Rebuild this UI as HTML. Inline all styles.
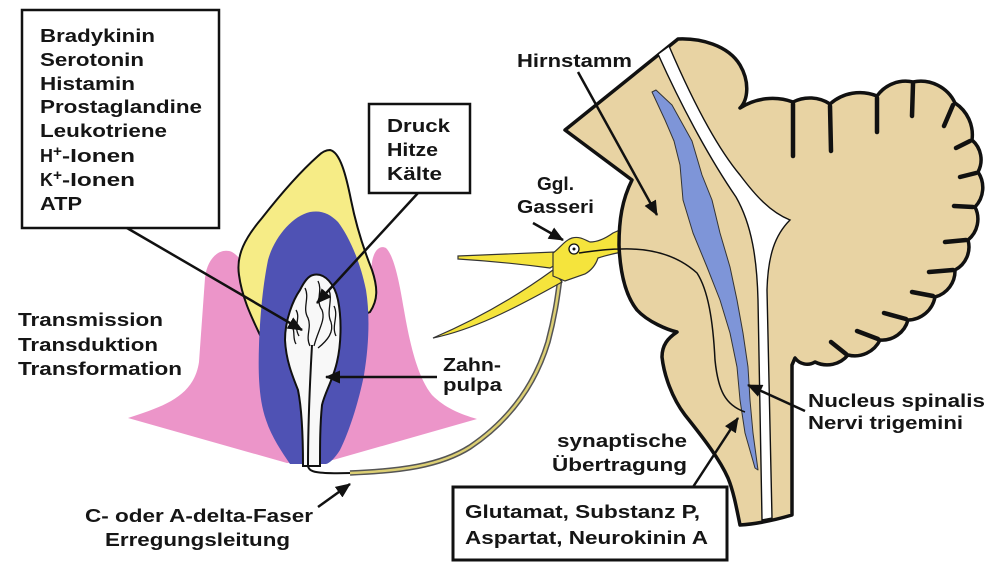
<!DOCTYPE html>
<html><head><meta charset="utf-8"><style>
html,body{margin:0;padding:0;background:#fff;}
svg{display:block;}
text{font-family:"Liberation Sans",Arial,sans-serif;font-weight:bold;font-size:18.5px;fill:#151515;}
</style></head><body>
<svg width="1000" height="563" viewBox="0 0 1000 563" xmlns="http://www.w3.org/2000/svg">
<defs>
<marker id="ah" markerUnits="userSpaceOnUse" markerWidth="15" markerHeight="13" viewBox="0 0 15 13" refX="14" refY="6.5" orient="auto">
<path d="M0,0 L15,6.5 L0,13 Z" fill="#111"/>
</marker>
</defs>
<rect width="1000" height="563" fill="#fff"/>

<!-- gums -->
<path d="M128,418 C165,406 194,396 199,362 L205,278 C207,258 220,247 232,252 C246,260 251,282 253,300 L368,300 L372,262 C374,250 380,245 386,248 C394,256 399,280 404,310 C410,345 418,378 432,395 C445,408 460,414 477,419 L333,460 L287,463 Z" fill="#ec95c9"/>

<!-- enamel -->
<path d="M330,150 C340,152 346,175 351,200 C356,225 362,245 372,270 C378,288 378,300 370,312 L330,330 L260,335 C252,318 242,298 239,275 C236,255 245,238 262,218 C280,195 300,172 318,156 C322,152 326,150 330,150 Z" fill="#f6ec86" stroke="#111" stroke-width="2"/>

<!-- dentin -->
<path d="M310,212 C322,210 330,214 338,222 C348,235 360,260 366,290 C370,315 369,345 364,375 C359,400 350,430 340,450 C335,458 330,463 326,464 L290,464 C282,452 272,438 266,420 C259,400 258,375 259,345 C260,320 262,290 268,260 C274,238 292,216 310,212 Z" fill="#4f52b4"/>

<!-- pulp -->
<path d="M313,275 C325,272 335,285 338,300 C342,320 341,345 337,362 C333,380 325,392 322,405 C320,425 320,445 320,466 L303,466 C303,440 302,410 298,390 C292,375 286,360 285,340 C285,320 293,300 300,290 C304,282 308,276 313,275 Z" fill="#f8f8f8" stroke="#111" stroke-width="2"/>
<g fill="none" stroke="#111" stroke-width="1.3">
<path d="M305,288 C310,298 302,308 308,318 C312,328 305,336 310,346"/>
<path d="M318,281 C323,291 315,300 322,310 C326,320 318,330 314,346"/>
<path d="M329,290 C333,300 326,312 331,322 C334,332 328,340 318,348"/>
<path d="M296,310 C301,318 293,326 299,336"/>
<path d="M334,306 C339,316 331,326 336,336"/>
<path d="M291,326 C296,330 292,338 296,344"/>
</g>
<path d="M312,345 C310,380 308,420 308,466 C309,472 316,474 352,473" fill="none" stroke="#111" stroke-width="2"/>

<!-- fiber -->
<path d="M350,473 C400,471 440,466 470,447 C510,420 535,385 548,342 C556,312 558,292 560,278" fill="none" stroke="#555" stroke-width="5.5"/>
<path d="M350,473 C400,471 440,466 470,447 C510,420 535,385 548,342 C556,312 558,292 560,278" fill="none" stroke="#dccf74" stroke-width="2.5"/>

<!-- ganglion -->
<g fill="#f5e43c" stroke="#333" stroke-width="1.2">
<path d="M458,256 L555,252 L560,262 L550,268 C520,264 490,261 458,259 Z"/>
<path d="M553,270 C520,294 480,318 433,338 C472,330 512,310 562,282 Z"/>
<path d="M553,253 C560,248 565,240 572,238 C580,236 585,240 590,242 C598,242 606,238 613,233 L622,229 L622,252 C612,254 604,256 598,258 C596,264 592,270 585,274 L565,281 L553,276 Z"/>
</g>
<circle cx="574" cy="249" r="5" fill="#fff" stroke="#111" stroke-width="1.3"/>
<circle cx="574" cy="249" r="1.5" fill="#111"/>

<!-- brainstem + cerebellum -->
<path d="M565,130 L678,39 C700,38 728,45 740,65 C750,82 748,100 740,108 A60,60 0 0 1 793,102 A37,37 0 0 1 830,104 A45,45 0 0 1 877,96 A35,35 0 0 1 913,82 A38,38 0 0 1 955,103 A38,38 0 0 1 972,140 A26,26 0 0 1 978,172 A28,28 0 0 1 975,207 A27,27 0 0 1 968,240 A26,26 0 0 1 955,270 A27,27 0 0 1 935,297 A28,28 0 0 1 908,320 A27,27 0 0 1 880,340 A28,28 0 0 1 848,355 A27,27 0 0 1 815,362 A15,15 0 0 1 795,358 L792,365 L792,515 C775,520 755,524 740,525 C736,505 733,490 728,478 C720,460 705,440 685,415 C672,398 664,375 662,357 C662,345 668,338 677,332 C668,330 648,322 637,310 C625,295 620,270 619,245 C619,220 622,200 632,180 Z" fill="#e8d3a3" stroke="#111" stroke-width="3.5" stroke-linejoin="round"/>
<g stroke="#111" stroke-width="4.5" stroke-linecap="round">
<line x1="793" y1="104" x2="793" y2="156"/>
<line x1="830" y1="106" x2="831" y2="151"/>
<line x1="877" y1="98" x2="877" y2="132"/>
<line x1="913" y1="84" x2="912" y2="116"/>
<line x1="953" y1="105" x2="944" y2="126"/>
<line x1="970" y1="141" x2="956" y2="148"/>
<line x1="976" y1="173" x2="960" y2="177"/>
<line x1="973" y1="207" x2="954" y2="206"/>
<line x1="966" y1="240" x2="945" y2="242"/>
<line x1="953" y1="270" x2="929" y2="272"/>
<line x1="933" y1="296" x2="912" y2="292"/>
<line x1="906" y1="319" x2="884" y2="313"/>
<line x1="878" y1="339" x2="857" y2="331"/>
<line x1="846" y1="354" x2="831" y2="342"/>
</g>
<!-- white channel -->
<path d="M658,54 L669,46 C690,95 715,145 740,175 C755,195 770,212 790,220 C775,235 768,255 767,290 L772,518 L762,520 L758,300 C757,260 752,225 736,197 C712,162 684,112 658,54 Z" fill="#fff" stroke="#111" stroke-width="1.4"/>
<!-- nucleus -->
<path d="M652,92 L665,120 L674,141 L680,165 L683,200 L693,233 L707,267 L720,300 L730,333 L737,367 L740,400 L745,433 L755,468 L758,470 L753,433 L750,400 L748,367 L743,333 L737,300 L730,267 L720,233 L712,200 L702,175 L692,141 L672,105 L656,90 Z" fill="#7e95d8" stroke="#333" stroke-width="1" stroke-linejoin="round"/>
<!-- trigeminal line -->
<path d="M579,253 C595,251 605,249 621,249 C650,248 677,255 697,273 C708,290 713,320 715,360 C718,390 725,405 745,412" fill="none" stroke="#111" stroke-width="1.5"/>

<!-- boxes -->
<rect x="22" y="10" width="197" height="218" fill="#fff" stroke="#111" stroke-width="2.5"/>
<rect x="369" y="104" width="101" height="89" fill="#fff" stroke="#111" stroke-width="2.5"/>
<rect x="453" y="487" width="274" height="73" fill="#fff" stroke="#111" stroke-width="3"/>

<!-- arrows -->
<g stroke="#111" stroke-width="2.5" fill="none" marker-end="url(#ah)">
<line x1="127" y1="228" x2="302" y2="330"/>
<line x1="418" y1="193" x2="317" y2="303"/>
<line x1="437" y1="377" x2="326" y2="377"/>
<line x1="318" y1="507" x2="350" y2="484"/>
<line x1="533" y1="223" x2="563" y2="240"/>
<line x1="578" y1="72" x2="657" y2="215"/>
<line x1="805" y1="411" x2="748" y2="385"/>
<line x1="693" y1="487" x2="738" y2="418"/>
</g>

<!-- text -->
<text x="40" y="42" textLength="115" lengthAdjust="spacingAndGlyphs">Bradykinin</text>
<text x="40" y="66" textLength="104" lengthAdjust="spacingAndGlyphs">Serotonin</text>
<text x="40" y="90" textLength="95" lengthAdjust="spacingAndGlyphs">Histamin</text>
<text x="40" y="113" textLength="162" lengthAdjust="spacingAndGlyphs">Prostaglandine</text>
<text x="40" y="137" textLength="127" lengthAdjust="spacingAndGlyphs">Leukotriene</text>
<text x="40" y="162" textLength="13" lengthAdjust="spacingAndGlyphs">H</text>
<text x="53" y="156" textLength="9" lengthAdjust="spacingAndGlyphs" style="font-size:15px">+</text>
<text x="62" y="162" textLength="73" lengthAdjust="spacingAndGlyphs">-Ionen</text>
<text x="40" y="186" textLength="13" lengthAdjust="spacingAndGlyphs">K</text>
<text x="53" y="180" textLength="9" lengthAdjust="spacingAndGlyphs" style="font-size:15px">+</text>
<text x="62" y="186" textLength="73" lengthAdjust="spacingAndGlyphs">-Ionen</text>
<text x="40" y="210" textLength="42" lengthAdjust="spacingAndGlyphs">ATP</text>

<text x="387" y="132" textLength="63" lengthAdjust="spacingAndGlyphs">Druck</text>
<text x="387" y="156" textLength="51" lengthAdjust="spacingAndGlyphs">Hitze</text>
<text x="387" y="180" textLength="55" lengthAdjust="spacingAndGlyphs">Kälte</text>

<text x="18" y="326" textLength="145" lengthAdjust="spacingAndGlyphs">Transmission</text>
<text x="18" y="351" textLength="140" lengthAdjust="spacingAndGlyphs">Transduktion</text>
<text x="18" y="375" textLength="164" lengthAdjust="spacingAndGlyphs">Transformation</text>

<text x="85" y="522" textLength="228" lengthAdjust="spacingAndGlyphs">C- oder A-delta-Faser</text>
<text x="105" y="546" textLength="185" lengthAdjust="spacingAndGlyphs">Erregungsleitung</text>

<text x="443" y="371" textLength="58" lengthAdjust="spacingAndGlyphs">Zahn-</text>
<text x="443" y="391" textLength="59" lengthAdjust="spacingAndGlyphs">pulpa</text>

<text x="537" y="190" textLength="37" lengthAdjust="spacingAndGlyphs">Ggl.</text>
<text x="517" y="213" textLength="77" lengthAdjust="spacingAndGlyphs">Gasseri</text>
<text x="517" y="67" textLength="115" lengthAdjust="spacingAndGlyphs">Hirnstamm</text>

<text x="808" y="407" textLength="177" lengthAdjust="spacingAndGlyphs">Nucleus spinalis</text>
<text x="808" y="429" textLength="155" lengthAdjust="spacingAndGlyphs">Nervi trigemini</text>

<text x="557" y="447" textLength="130" lengthAdjust="spacingAndGlyphs">synaptische</text>
<text x="552" y="471" textLength="135" lengthAdjust="spacingAndGlyphs">Übertragung</text>

<text x="465" y="518" textLength="235" lengthAdjust="spacingAndGlyphs">Glutamat, Substanz P,</text>
<text x="465" y="544" textLength="243" lengthAdjust="spacingAndGlyphs">Aspartat, Neurokinin A</text>
</svg>
</body></html>
